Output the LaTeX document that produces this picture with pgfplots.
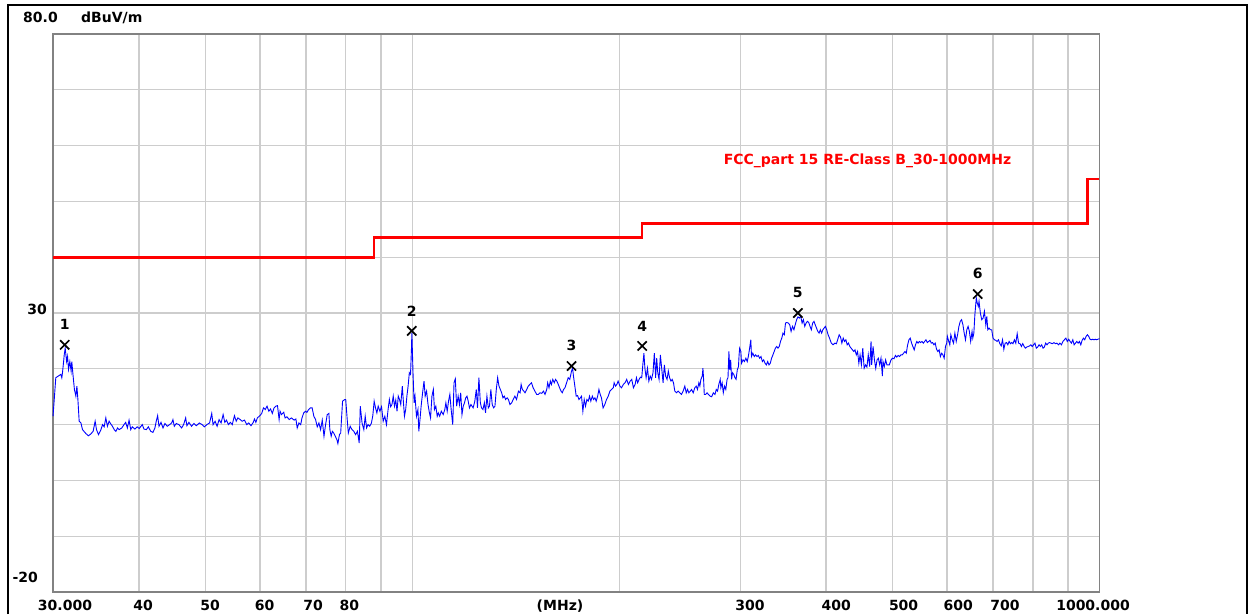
\documentclass[border=0pt]{standalone}
\usepackage{pgfplots}
\pgfplotsset{compat=1.18}
\usepackage{pgfplotstable}
\usepackage{fontspec}
\setmainfont{DejaVu Sans}
\definecolor{gridgray}{RGB}{205,205,205}
\definecolor{framegray}{RGB}{130,130,130}
\definecolor{traceblue}{RGB}{0,0,255}
\definecolor{limred}{RGB}{255,0,0}

\pgfplotstableread{
f L
30.0 11.5
30.1 13.9
30.28 18.4
30.45 18.6
30.62 18.8
30.8 19.0
30.9 18.4
30.97 19.3
31.07 21.0
31.15 22.5
31.25 23.7
31.4 21.3
31.5 22.2
31.6 19.9
31.74 21.3
31.88 19.6
31.95 21.3
32.09 18.7
32.23 16.3
32.39 15.1
32.5 16.9
32.61 14.5
32.75 10.6
32.94 10.3
33.12 9.1
33.49 8.4
33.78 8.0
34.04 8.3
34.32 8.8
34.55 10.6
34.71 9.1
34.94 8.2
35.23 9.1
35.42 10.0
35.61 9.6
35.81 11.2
36.0 9.7
36.21 10.6
36.46 10.0
36.62 9.7
36.83 9.1
37.04 8.8
37.24 9.4
37.44 9.1
37.78 9.4
38.06 10.0
38.28 10.4
38.49 9.4
38.71 10.8
38.93 9.1
39.13 9.6
39.48 9.2
39.78 9.6
40.05 9.3
40.46 10.0
40.69 9.2
41.01 9.1
41.29 9.6
41.62 8.8
41.93 8.6
42.21 9.4
42.4 10.6
42.6 11.6
42.79 9.7
43.08 10.4
43.37 9.4
43.65 10.2
43.99 9.7
44.34 10.0
44.65 10.3
44.84 10.9
45.04 9.7
45.34 10.2
45.74 10.0
46.16 9.4
46.47 10.0
46.79 11.2
46.99 9.8
47.3 10.4
47.73 9.7
48.1 10.2
48.5 9.8
48.97 10.3
49.43 10.0
49.83 9.6
50.23 10.0
50.7 10.3
51.06 12.0
51.29 10.0
51.64 10.6
51.99 9.7
52.34 10.9
52.69 10.3
53.05 11.8
53.35 10.4
53.65 10.8
54.0 10.0
54.35 10.4
54.7 10.0
55.1 11.6
55.43 10.6
55.73 11.2
56.18 10.9
56.55 10.6
56.98 10.8
57.42 10.0
57.8 10.3
58.25 9.8
58.68 10.4
58.93 11.0
59.2 10.4
59.5 11.2
60.0 11.6
60.37 12.0
60.73 13.0
61.1 12.7
61.46 13.3
61.83 12.4
62.19 12.8
62.56 12.0
62.92 13.0
63.29 13.3
63.65 13.4
64.0 10.9
64.2 12.4
64.5 11.8
65.0 12.2
65.3 11.2
65.7 11.4
66.2 10.9
66.7 11.2
67.3 10.8
67.7 11.0
68.0 9.4
68.4 10.3
68.8 10.0
69.1 11.2
69.5 12.1
69.9 12.4
70.25 12.2
70.66 12.7
71.07 13.0
71.49 13.0
71.9 11.5
72.31 10.9
72.73 9.6
73.14 10.3
73.55 9.1
73.96 10.8
74.38 7.9
74.79 10.0
75.2 11.8
75.62 12.0
75.86 9.1
76.2 7.9
76.5 8.8
76.86 8.5
77.27 7.9
77.68 7.3
77.93 6.6
78.34 8.2
78.67 8.5
79.17 14.2
79.75 14.5
80.0 14.5
80.4 10.9
80.7 8.5
81.2 9.7
81.7 9.1
82.2 8.8
82.7 8.2
83.2 8.8
83.7 6.7
84.0 13.3
84.5 10.3
85.0 9.1
85.4 11.5
85.8 9.4
86.2 10.0
86.7 9.7
87.2 10.3
87.6 11.6
88.0 14.2
88.4 13.0
88.8 12.1
89.2 13.3
89.7 12.4
90.2 13.2
90.7 10.6
91.2 11.5
91.7 10.0
92.2 12.7
92.6 14.5
93.0 13.2
93.4 13.6
93.8 15.1
94.2 13.3
94.6 14.4
95.0 12.4
95.4 15.1
95.8 14.5
96.2 13.6
96.7 16.9
97.0 14.5
97.4 11.5
97.8 12.7
98.2 15.1
98.6 16.9
99.0 19.3
99.4 19.0
99.7 23.4
99.85 26.4
100.23 19.3
100.6 13.9
100.9 15.1
101.4 11.5
101.9 12.7
102.2 8.8
102.6 10.9
103.0 13.3
103.5 15.7
104.0 17.8
104.4 15.1
104.9 16.0
105.4 13.6
105.9 12.1
106.3 11.2
106.8 15.1
107.3 16.3
107.7 12.7
108.2 13.3
108.7 11.5
109.1 12.1
109.6 11.5
110.2 12.4
110.9 11.8
111.5 12.7
111.9 13.9
112.4 12.4
112.9 14.2
113.4 15.4
113.9 12.7
114.5 10.0
115.0 17.5
115.5 18.2
116.0 13.3
116.6 15.1
117.1 13.6
117.6 15.7
118.1 11.8
118.6 13.3
119.1 13.9
119.6 14.8
120.1 15.1
120.6 14.2
121.1 13.0
121.7 13.6
122.6 13.0
123.3 14.2
123.9 16.3
124.4 13.0
125.0 18.4
125.6 13.9
126.1 13.0
126.7 12.7
127.3 13.9
127.8 12.1
128.4 15.1
129.0 13.0
129.5 13.3
130.1 16.3
130.7 13.6
131.3 13.0
131.9 13.3
132.5 16.3
133.1 18.4
133.7 16.9
134.3 16.3
134.9 15.7
135.5 14.8
136.1 15.1
136.7 14.5
137.4 14.8
138.0 14.5
138.7 13.6
139.5 13.9
140.2 14.5
141.0 15.1
141.8 14.5
142.7 16.0
143.5 15.7
144.0 17.2
144.6 16.3
145.3 16.0
145.9 15.7
146.7 16.3
147.5 16.9
148.3 17.2
149.1 17.5
149.9 16.6
150.8 16.0
151.7 15.4
152.5 15.4
153.4 15.7
154.3 15.6
155.2 16.0
156.0 15.4
156.9 16.3
157.4 17.5
158.1 16.6
158.8 17.8
159.4 17.2
160.1 18.1
160.9 17.5
161.6 18.1
162.3 17.8
163.1 17.2
163.8 16.6
164.6 16.0
165.3 15.7
166.0 16.3
166.8 16.6
167.7 17.5
168.6 18.4
169.5 18.1
170.5 19.6
171.1 20.1
171.6 18.7
172.4 16.9
173.2 15.1
174.0 15.2
174.8 14.5
175.6 14.8
176.3 15.1
177.1 12.4
177.9 14.5
178.7 13.3
179.5 14.5
180.3 14.2
181.1 15.1
181.9 14.2
182.8 15.1
183.6 14.5
184.4 14.8
185.2 14.2
186.1 15.1
186.9 16.3
187.7 15.4
188.5 14.8
189.5 13.0
190.6 13.6
191.7 14.5
192.8 15.1
193.9 16.0
195.0 16.3
196.1 16.6
196.7 17.5
197.6 16.9
198.5 17.2
199.3 17.8
200.5 16.9
201.6 16.6
202.8 17.2
204.0 17.5
205.1 18.1
206.3 17.2
207.5 17.8
208.6 18.1
209.8 16.6
211.0 17.2
211.9 18.4
212.8 17.5
213.8 18.1
214.7 18.5
215.7 18.4
216.6 21.0
217.3 22.8
218.0 20.1
218.9 18.4
219.9 20.1
220.9 17.8
221.9 18.7
222.9 18.1
224.0 19.3
225.0 22.8
226.0 18.4
226.8 21.9
227.6 19.3
228.6 18.1
229.6 22.5
230.7 19.9
231.7 17.5
232.7 20.7
233.7 18.7
234.8 18.1
235.8 19.6
236.8 18.4
237.9 17.8
238.9 18.1
239.9 17.5
241.0 16.0
242.4 15.7
243.7 16.0
245.1 15.7
246.4 15.4
247.8 16.0
249.2 16.9
250.4 15.7
251.5 16.3
252.6 15.7
253.8 16.0
254.9 16.3
256.3 15.7
257.7 16.6
258.9 16.9
260.0 16.3
261.2 17.5
262.1 16.9
263.0 18.1
264.2 18.7
264.8 20.1
265.4 18.1
266.0 15.4
267.2 15.4
268.5 15.7
269.7 15.4
271.2 15.1
272.7 15.0
274.2 15.7
275.7 15.4
276.9 16.3
278.1 16.0
279.3 17.2
280.6 18.1
281.2 16.6
282.4 17.5
283.5 15.7
284.7 16.9
285.9 16.3
287.1 18.1
288.0 18.4
288.9 23.1
289.7 19.8
290.6 21.6
291.5 18.1
292.4 19.3
293.6 19.0
294.8 18.4
295.9 18.1
297.1 19.8
298.3 20.4
298.9 22.5
299.5 23.7
300.7 23.1
301.4 21.0
302.9 21.6
304.3 21.3
305.8 21.9
307.2 21.3
308.3 22.2
309.4 23.4
310.9 25.2
311.6 22.2
313.0 22.8
314.5 22.2
315.9 22.5
317.4 22.2
318.8 22.4
320.3 21.9
321.7 22.2
323.2 21.3
324.6 21.6
326.1 21.0
327.5 20.7
329.0 21.3
330.4 20.7
331.9 21.0
333.3 21.9
334.8 22.5
336.2 23.1
337.6 23.7
339.1 24.0
340.5 23.7
342.0 24.0
343.4 24.9
344.9 25.5
346.3 26.4
347.8 26.1
349.2 28.2
350.8 28.3
352.5 28.2
354.2 27.9
355.8 26.7
357.5 27.6
359.2 27.0
360.8 27.9
362.5 28.8
364.2 29.3
365.8 29.1
367.5 29.4
369.2 28.2
370.8 28.8
372.5 27.6
374.2 28.2
375.8 28.5
377.5 28.3
379.2 27.6
380.8 27.0
382.5 28.2
384.2 28.5
385.8 27.9
387.5 27.3
389.2 26.7
390.8 26.4
392.5 27.0
394.2 26.4
395.8 27.0
397.5 27.3
399.2 27.6
400.9 27.0
402.8 26.1
404.7 25.5
407.1 24.6
409.5 24.3
411.9 24.6
414.2 24.5
416.1 25.3
418.0 26.1
419.9 25.7
421.8 24.6
423.7 25.5
425.6 24.9
427.5 25.2
429.4 24.3
431.3 24.6
433.2 24.0
435.1 23.7
437.0 23.4
438.9 23.1
440.8 23.4
442.7 22.5
444.6 23.1
446.5 21.0
448.3 22.5
450.3 20.7
452.4 23.7
454.5 20.1
456.6 20.7
458.7 20.3
460.8 22.5
463.0 20.4
465.1 24.9
466.1 20.7
468.3 24.0
470.4 21.6
472.5 20.1
474.6 21.6
476.7 21.9
478.8 20.7
480.9 21.9
483.1 18.7
484.1 21.3
486.2 20.4
488.4 21.6
490.5 20.7
494.5 20.7
497.3 21.6
500.0 21.9
502.3 21.8
504.7 22.4
507.0 22.1
509.4 22.4
511.7 22.2
514.1 22.5
516.4 22.5
518.7 22.8
521.1 23.1
523.4 22.8
525.8 24.3
528.1 25.2
530.4 25.5
532.8 24.6
535.1 24.0
537.5 23.4
539.8 24.3
542.2 24.9
544.5 24.6
546.8 24.9
549.2 24.7
551.6 24.9
554.1 24.6
556.6 24.9
559.1 25.2
561.6 24.7
564.2 24.9
566.7 25.1
569.2 24.6
571.7 24.7
574.2 24.3
576.7 24.6
579.3 23.5
581.8 23.1
584.3 23.4
586.8 22.2
589.3 22.8
591.8 22.5
594.3 21.9
596.9 24.0
599.4 24.6
600.7 25.8
603.5 24.9
605.6 24.3
607.7 26.1
610.5 25.2
613.2 24.6
616.0 26.4
618.8 24.9
621.6 26.1
624.4 27.6
627.2 28.5
630.0 28.8
632.8 27.9
635.5 26.4
638.3 25.2
641.1 27.0
643.9 27.6
646.7 26.7
649.5 24.9
652.5 26.7
654.1 25.5
656.4 26.4
658.7 29.7
661.8 32.7
664.0 31.8
666.3 31.2
667.9 32.1
670.9 30.0
674.0 28.8
677.1 29.1
680.1 30.3
683.2 27.9
685.5 29.4
687.8 27.0
690.8 27.3
693.9 27.0
696.9 27.0
700.0 25.5
703.2 25.2
706.5 25.1
709.7 24.9
712.9 25.2
716.2 24.5
719.4 24.1
722.7 25.2
725.9 23.5
729.1 24.6
732.4 24.7
735.6 24.3
738.8 24.9
742.1 24.5
745.3 24.7
748.5 24.5
752.0 25.2
755.5 24.6
759.1 26.3
762.6 24.6
766.2 24.5
769.8 24.0
773.3 24.5
776.9 24.0
780.4 23.7
784.0 23.9
787.5 24.0
791.1 24.1
794.7 24.3
798.2 24.0
801.8 24.3
805.5 24.6
809.2 23.7
812.9 23.9
816.6 24.3
820.3 24.0
823.9 24.3
827.6 23.7
831.3 23.9
835.0 24.6
838.7 24.3
842.4 24.6
846.0 24.7
849.7 24.6
854.0 24.5
858.4 24.7
862.8 24.5
867.2 24.6
871.5 24.3
875.9 24.6
880.3 24.3
884.7 24.9
889.0 25.2
893.4 25.5
897.8 24.9
902.1 25.3
906.2 24.9
910.3 24.6
914.5 25.2
918.6 24.3
922.7 24.6
926.9 24.9
931.0 24.6
935.1 24.9
939.3 24.3
943.4 25.1
947.5 25.5
951.7 25.2
956.0 25.8
960.3 26.1
964.6 25.8
968.9 25.3
973.2 25.2
977.5 25.3
981.8 25.2
986.1 25.3
990.4 25.2
994.6 25.3
1000.0 25.4
}\trace

\begin{document}
\begin{tikzpicture}[x=1pt,y=1pt]
\useasboundingbox (0,0) rectangle (1249,614);
\fill[white] (0,0) rectangle (1249,614);
% outer frame
\draw[line width=2pt,black] (8,0) -- (8,609) -- (1247,609) -- (1247,0);
\begin{axis}[
  at={(53pt,22pt)}, anchor=south west,
  scale only axis,
  width=1046.5pt, height=558pt,
  xmode=log,
  xmin=30, xmax=1000,
  ymin=-20, ymax=80,
  xtick={30,40,50,60,70,80,90,100,200,300,400,500,600,700,800,900,1000},
  ytick={-10,0,10,20,30,40,50,60,70},
  xticklabels={}, yticklabels={},
  tick label style={opacity=0},
  major tick length=0pt, minor tick num=0,
  xminorticks=false,
  grid=major,
  major grid style={draw=gridgray,line width=1.3pt},
  axis line style={draw=framegray,line width=1.6pt},
  clip=false,
]
\addplot[traceblue, line width=0.9pt] table[x=f,y=L] {\trace};
\addplot[limred, line width=2.6pt] coordinates {
  (30,40) (88,40) (88,43.5) (216,43.5) (216,46) (960,46) (960,54) (1000,54)};
\addplot[only marks, mark=x, mark size=6.5pt, black,
  mark options={line width=1.7pt},
  point meta=explicit symbolic,
  nodes near coords,
  every node near coord/.append style={inner sep=0pt, yshift=14pt, opacity=1,
     font=\fontsize{14}{16}\selectfont\bfseries, text=black}]
  coordinates {
  (31.2,24.3) [1]
  (99.8,26.8) [2]
  (170.5,20.5) [3]
  (216,24.1) [4]
  (364,30.0) [5]
  (665,33.4) [6]
};
\end{axis}
\begin{scope}[every node/.style={font=\fontsize{14}{16}\selectfont\bfseries, inner sep=0pt}]
\node[anchor=base west] at (23,591) {80.0};
\node[anchor=base west] at (81,591) {dBuV/m};
\node[anchor=base east] at (47,300) {30};
\node[anchor=base east] at (38,32) {-20};
\node[anchor=base] at (65,4) {30.000};
\node[anchor=base] at (143,4) {40};
\node[anchor=base] at (210,4) {50};
\node[anchor=base] at (264.5,4) {60};
\node[anchor=base] at (313,4) {70};
\node[anchor=base] at (349.3,4) {80};
\node[anchor=base] at (560,4) {(MHz)};
\node[anchor=base] at (750,4) {300};
\node[anchor=base] at (836.3,4) {400};
\node[anchor=base] at (903.6,4) {500};
\node[anchor=base] at (958.3,4) {600};
\node[anchor=base] at (1005,4) {700};
\node[anchor=base] at (1093,4) {1000.000};
\node[anchor=base, text=limred] at (867.5,449) {FCC\_part 15 RE-Class B\_30-1000MHz};
\end{scope}
\end{tikzpicture}
\end{document}
